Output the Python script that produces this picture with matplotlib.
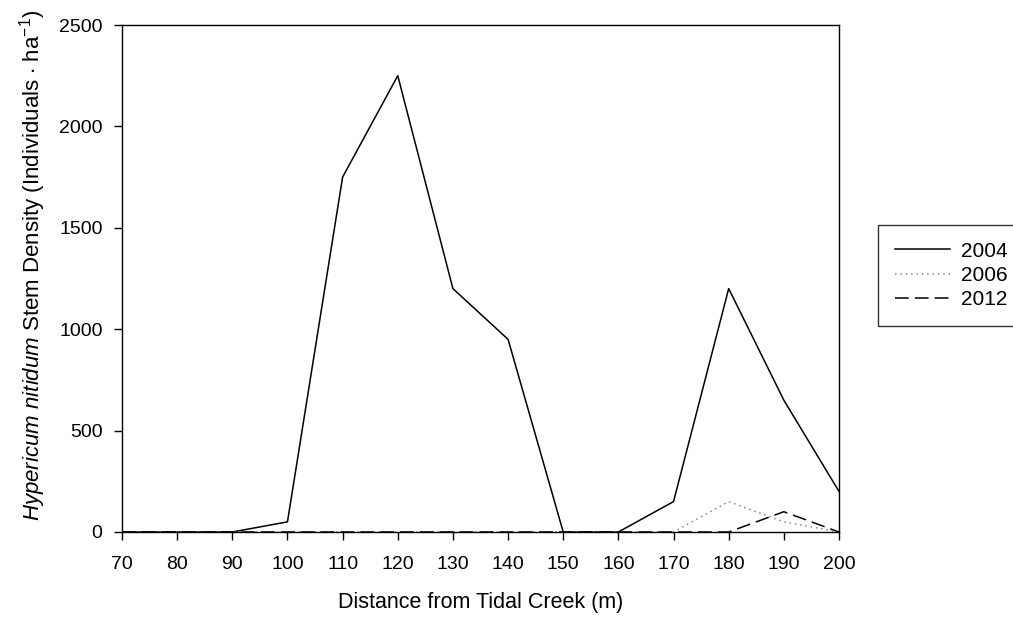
import matplotlib
matplotlib.use("Agg")
import matplotlib.pyplot as plt

plt.rcParams['font.family'] = ['Liberation Sans', 'DejaVu Sans']
plt.rcParams['mathtext.fontset'] = 'custom'
plt.rcParams['mathtext.rm'] = 'Liberation Sans'
plt.rcParams['mathtext.it'] = 'Liberation Sans:italic'

distance = [70, 80, 90, 100, 110, 120, 130, 140, 150, 160, 170, 180, 190, 200]
y2004 = [0, 0, 0, 50, 1750, 2250, 1200, 950, 0, 0, 150, 1200, 650, 200]
y2006 = [0, 0, 0, 0, 0, 0, 0, 0, 0, 0, 0, 150, 50, 0]
y2012 = [0, 0, 0, 0, 0, 0, 0, 0, 0, 0, 0, 0, 100, 0]

fig = plt.figure(figsize=(10.13, 6.2), dpi=100)
ax = fig.add_axes([122 / 1013, 88 / 620, 717 / 1013, 507 / 620])

ax.plot(distance, y2004, color='black', lw=1.1, label='2004')
ax.plot(distance, y2006, color='#888888', lw=1.1, linestyle=(0, (1, 2.5)), label='2006')
ax.plot(distance, y2012, color='black', lw=1.1, linestyle=(0, (9, 4)), label='2012')

ax.set_xlim(70, 200)
ax.set_ylim(0, 2500)
ax.set_xticks(range(70, 201, 10))
ax.set_yticks(range(0, 2501, 500))
ax.tick_params(direction='out', length=6, width=1, labelsize=14)
ax.tick_params(axis='x', pad=11)
ax.tick_params(axis='y', pad=8)
for s in ax.spines.values():
    s.set_linewidth(1)

ax.set_xlabel('Distance from Tidal Creek (m)', fontsize=15.5, labelpad=14)
ax.set_ylabel(r'$\mathit{Hypericum\ nitidum}$ Stem Density (Individuals $\cdot$ ha$^{-1}$)',
              fontsize=16, labelpad=8)
ax.yaxis.label.set_y(0.525)

leg = fig.legend(loc='upper left', bbox_to_anchor=(878 / 1013, 1 - 225 / 620),
                 bbox_transform=fig.transFigure, borderaxespad=0, frameon=True,
                 fancybox=False, edgecolor='black', fontsize=15,
                 handlelength=2.65, handletextpad=0.55, borderpad=0.8,
                 labelspacing=0.25)
leg.get_frame().set_linewidth(1)

fig.savefig('out.png', dpi=100)
